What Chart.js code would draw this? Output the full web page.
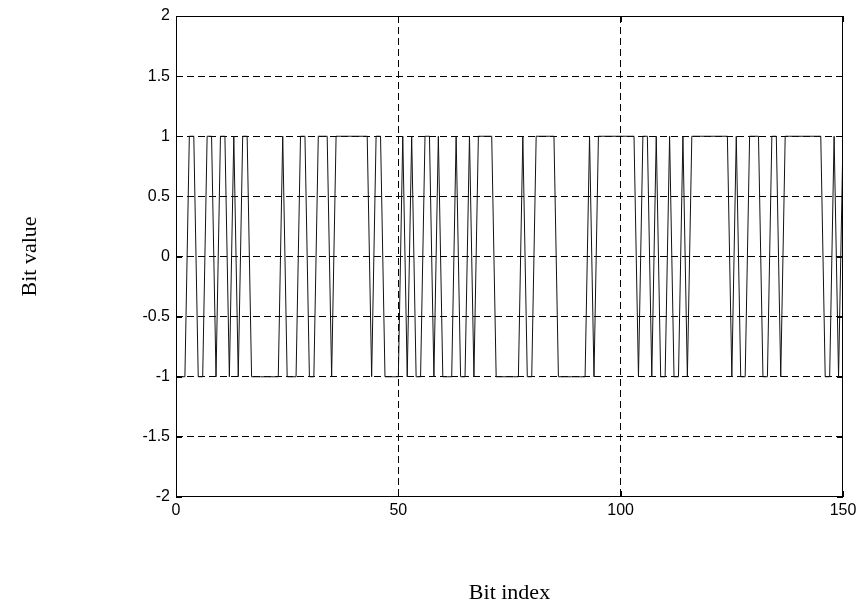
<!DOCTYPE html>
<html>
<head>
<meta charset="utf-8">
<script src="https://cdn.jsdelivr.net/npm/chart.js@4/dist/chart.umd.min.js"></script>
<style>
  body { margin: 0; background: #fff; }
  #wrap { width: 863px; height: 608px; }
</style>
</head>
<body>
<div id="wrap"><canvas id="chart" width="863" height="608"></canvas></div>
<script>
// bit values, one per bit index 1..150
const bits = [
  -1,-1, 1, 1,-1,-1, 1, 1,-1, 1,
   1,-1, 1,-1, 1, 1,-1,-1,-1,-1,
  -1,-1,-1, 1,-1,-1,-1, 1, 1,-1,
  -1, 1, 1, 1,-1, 1, 1, 1, 1, 1,
   1, 1, 1,-1, 1, 1,-1,-1,-1,-1,
   1,-1, 1,-1,-1, 1, 1,-1, 1,-1,
  -1,-1, 1,-1,-1, 1,-1, 1, 1, 1,
   1,-1,-1,-1,-1,-1,-1, 1,-1,-1,
   1, 1, 1, 1, 1,-1,-1,-1,-1,-1,
  -1,-1, 1,-1, 1, 1, 1, 1, 1, 1,
   1, 1, 1,-1, 1, 1,-1, 1,-1,-1,
   1,-1,-1, 1,-1, 1, 1, 1, 1, 1,
   1, 1, 1, 1,-1, 1,-1,-1, 1, 1,
   1,-1,-1, 1, 1,-1, 1, 1, 1, 1,
   1, 1, 1, 1, 1,-1,-1, 1,-1, 1
];
const xTicks = [0, 50, 100, 150];
const yTicks = [-2, -1.5, -1, -0.5, 0, 0.5, 1, 1.5, 2];

const points = bits.map((v, i) => ({ x: i + 1, y: v }));

// box round the plot plus short inward tick marks, matlab style
const boxPlugin = {
  id: 'box',
  afterDraw(chart) {
    const { ctx, chartArea: a, scales } = chart;
    ctx.save();
    ctx.strokeStyle = '#000';
    ctx.lineWidth = 1;
    ctx.setLineDash([]);
    ctx.strokeRect(a.left + 0.5, a.top + 0.5, a.right - a.left - 1, a.bottom - a.top - 1);
    const len = 6;
    ctx.beginPath();
    yTicks.forEach(t => {
      const y = Math.round(scales.y.getPixelForValue(t)) + 0.5;
      ctx.moveTo(a.left, y); ctx.lineTo(a.left + len, y);
      ctx.moveTo(a.right, y); ctx.lineTo(a.right - len, y);
    });
    xTicks.forEach(t => {
      const x = Math.round(scales.x.getPixelForValue(t)) + 0.5;
      ctx.moveTo(x, a.bottom); ctx.lineTo(x, a.bottom - len);
      ctx.moveTo(x, a.top); ctx.lineTo(x, a.top + len);
    });
    ctx.stroke();
    ctx.restore();
  }
};

const tickFont = { family: 'Liberation Sans, Arial, sans-serif', size: 16 };
const titleFont = { family: 'Liberation Serif, Times New Roman, serif', size: 22 };

// no dashed grid line on the frame itself, the box covers it
const gridColor = (lo, hi) => c => (c.tick && (c.tick.value === lo || c.tick.value === hi)) ? 'rgba(0,0,0,0)' : '#000';

new Chart(document.getElementById('chart').getContext('2d'), {
  type: 'line',
  data: {
    datasets: [{
      data: points,
      borderColor: '#111',
      borderWidth: 1,
      pointRadius: 0,
      tension: 0,
      fill: false
    }]
  },
  options: {
    responsive: false,
    animation: false,
    layout: { padding: { left: 0, top: 16, right: 20, bottom: 0 } },
    plugins: { legend: { display: false }, tooltip: { enabled: false } },
    scales: {
      x: {
        type: 'linear',
        min: 0,
        max: 150,
        afterBuildTicks: s => { s.ticks = xTicks.map(v => ({ value: v })); },
        afterFit: s => { s.height = 111; },
        ticks: { color: '#000', font: tickFont, padding: 4, maxRotation: 0, callback: v => String(v) },
        grid: { color: gridColor(0, 150), lineWidth: 1, drawTicks: false },
        border: { display: false, dash: [7, 4] },
        title: { display: true, text: 'Bit index', color: '#000', font: titleFont, padding: { top: 0, bottom: 2 } }
      },
      y: {
        min: -2,
        max: 2,
        afterBuildTicks: s => { s.ticks = yTicks.map(v => ({ value: v })); },
        afterFit: s => { s.width = 176; },
        ticks: { color: '#000', font: tickFont, padding: 6, callback: v => String(v) },
        grid: { color: gridColor(-2, 2), lineWidth: 1, drawTicks: false },
        border: { display: false, dash: [7, 4] },
        title: { display: true, text: 'Bit value', color: '#000', font: titleFont, padding: { top: 17, bottom: 0 } }
      }
    }
  },
  plugins: [boxPlugin]
});
</script>
</body>
</html>
